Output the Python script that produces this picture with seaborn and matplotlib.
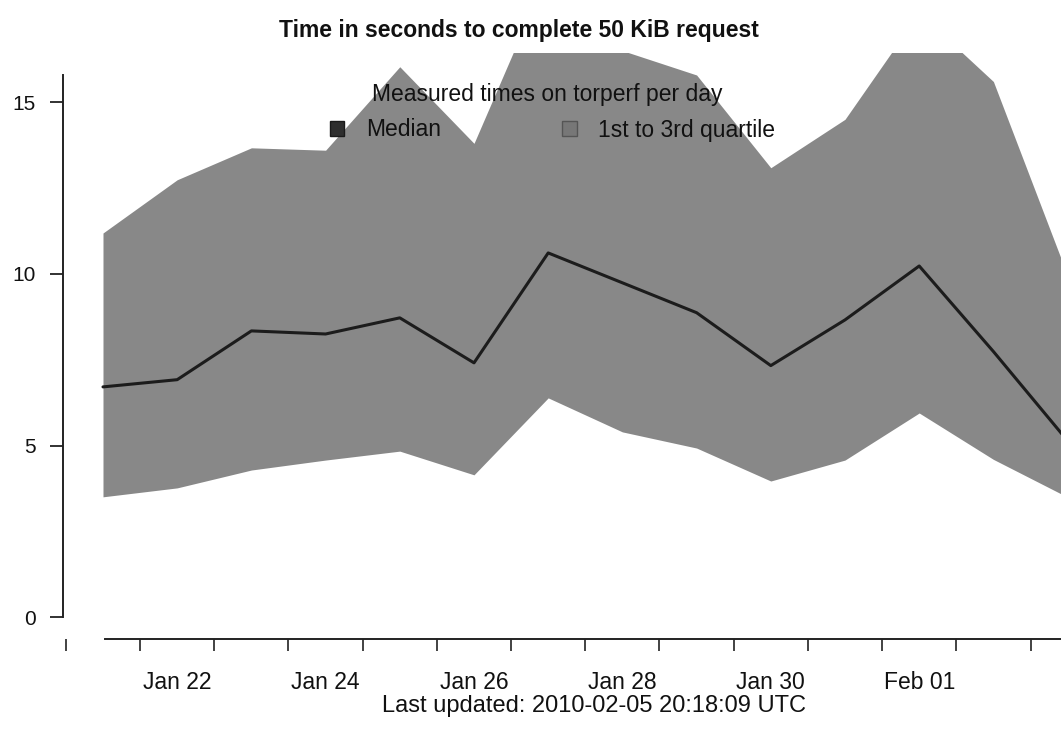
import numpy as np
import pandas as pd
import matplotlib
matplotlib.use("Agg")
import matplotlib.pyplot as plt
import matplotlib.dates as mdates
from matplotlib.patches import Patch
from matplotlib.ticker import FixedLocator
import seaborn as sns

# Daily torperf measurements (seconds to fetch 50 KiB)
days = pd.date_range("2010-01-21", periods=14, freq="D")
median = [6.71, 6.92, 8.34, 8.25, 8.72, 7.41, 10.61, 9.74, 8.87, 7.33, 8.66, 10.23, 7.74, 5.14]
q1 = [3.51, 3.77, 4.29, 4.58, 4.84, 4.15, 6.39, 5.40, 4.93, 3.97, 4.58, 5.95, 4.60, 3.50]
q3 = [11.19, 12.74, 13.67, 13.60, 16.03, 13.80, 18.80, 16.50, 15.79, 13.09, 14.50, 17.60, 15.60, 9.95]
label_days = ["2010-01-22", "2010-01-24", "2010-01-26", "2010-01-28", "2010-01-30", "2010-02-01"]
y_ticks = [0, 5, 10, 15]

title = "Time in seconds to complete 50 KiB request"
legend_title = "Measured times on torperf per day"
legend_labels = ["Median", "1st to 3rd quartile"]
footer = "Last updated: 2010-02-05 20:18:09 UTC"

sns.set_theme(style="white")
plt.rcParams["font.family"] = ["Liberation Sans", "DejaVu Sans"]
plt.rcParams["text.color"] = "#111111"

df = pd.DataFrame({"day": days, "median": median, "q1": q1, "q3": q3})

W, H = 1061, 744
fig = plt.figure(figsize=(W / 100, H / 100), dpi=100)
fig.patch.set_facecolor("white")
ax = fig.add_axes([63 / W, 1 - 639 / H, (W - 63) / W, (639 - 53) / H])
ax.set_facecolor("white")

fill_col = "#888888"
line_col = "#1c1c1c"
ax.fill_between(df["day"], df["q1"], df["q3"], color=fill_col, linewidth=0, zorder=1)
sns.lineplot(data=df, x="day", y="median", ax=ax, color=line_col, linewidth=2.2,
             zorder=2, legend=False)

d0 = mdates.date2num(days[0])
ax.set_xlim(d0 - 0.539, d0 + 12.911)
ax.set_ylim(-0.629, 16.43)

for s in ["top", "right"]:
    ax.spines[s].set_visible(False)
ax.spines["left"].set_bounds(0, 15.8)
ax.spines["bottom"].set_bounds(d0 + 0.03, d0 + 12.911)
for s in ["left", "bottom"]:
    ax.spines[s].set_color("#222222")
    ax.spines[s].set_linewidth(1.4)

ax.set_yticks(y_ticks)
ax.set_yticklabels([str(v) for v in y_ticks])
ax.tick_params(axis="y", which="major", direction="out", length=9.5, width=1.3,
               color="#222222", pad=10, labelsize=15, labelcolor="#111111", left=True)

ax.xaxis.set_major_locator(FixedLocator(mdates.date2num(pd.to_datetime(label_days))))
ax.xaxis.set_major_formatter(mdates.DateFormatter("%b %d"))
ax.xaxis.set_minor_locator(FixedLocator(d0 + np.arange(-0.5, 13.0, 1.0)))
ax.tick_params(axis="x", which="major", length=0, pad=23, labelsize=16.5,
               labelcolor="#111111", bottom=True)
ax.tick_params(axis="x", which="minor", direction="out", length=8.5, width=1.2,
               color="#222222", bottom=True)
ax.set_xlabel("")
ax.set_ylabel("")
ax.grid(False)

# Legend: heading line, then two keys side by side
fig.text(547 / W, 1 - 95 / H, legend_title, ha="center", va="center",
         fontsize=16.5, color="#111111")
handles = [Patch(facecolor="#2e2e2e", edgecolor="#1a1a1a"),
           Patch(facecolor="#777777", edgecolor="#555555")]
leg = fig.legend(handles, legend_labels, ncol=2,
                 loc="center left", bbox_to_anchor=(330 / W, 1 - 130 / H),
                 frameon=False, fontsize=16.5,
                 handlelength=0.62, handleheight=0.62, handletextpad=0.95,
                 columnspacing=5.3, borderpad=0, borderaxespad=0, labelspacing=0)

fig.text(519 / W, 1 - 30 / H, title, ha="center", va="center",
         fontsize=16.5, fontweight="bold", color="#111111")
fig.text(594 / W, 1 - 706 / H, footer, ha="center", va="center",
         fontsize=17, color="#111111")

fig.savefig("out.png", dpi=100, facecolor="white")
